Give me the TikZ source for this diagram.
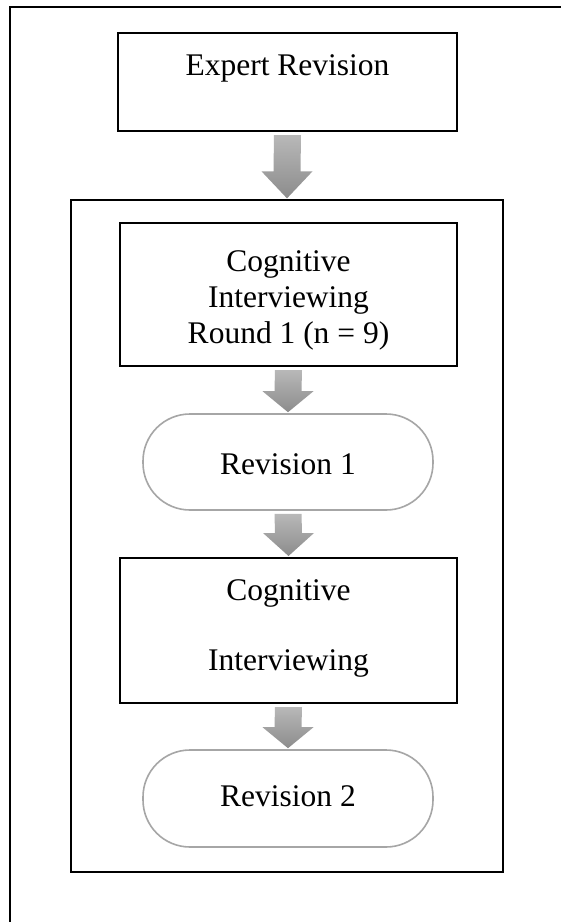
\documentclass[tikz,border=0pt]{standalone}
\usepackage{fontspec}
\setmainfont{Liberation Serif}
\usetikzlibrary{calc}
\definecolor{arrowtop}{RGB}{184,184,184}
\definecolor{arrowbot}{RGB}{140,140,140}
\definecolor{pillgray}{RGB}{166,166,166}
\tikzset{
  box/.style={draw=black, line width=2pt, rectangle, inner sep=0pt, fill=white},
  pill/.style={draw=pillgray, line width=1.6pt, rectangle, rounded corners=47pt, inner sep=0pt},
  framebox/.style={draw=black, line width=1.3pt, rectangle, inner sep=0pt},
  txt/.style={anchor=base, inner sep=0pt, font=\fontsize{31.5}{36}\selectfont},
  blockarrow/.style={top color=arrowtop, bottom color=arrowbot, draw=none},
}
\newcommand{\fatarrow}[3]{%
  \path[blockarrow] ($(#1.south)+(-13.5,3)$) -- ($(#1.south)+(13.5,3)$)
    -- ($(#2.north)+(13.5,-#3)$) -- ($(#2.north)+(25.5,-#3)$)
    -- ($(#2.north)+(0,-1)$) -- ($(#2.north)+(-25.5,-#3)$)
    -- ($(#2.north)+(-13.5,-#3)$) -- cycle;}
\begin{document}
\begin{tikzpicture}[x=1pt,y=-1pt]
\path[use as bounding box] (0,0) rectangle (561,922);
\clip (0,0) rectangle (561,922);
\fill[white] (0,0) rectangle (561,922);
% outer frame (partly outside the picture)
\draw[line width=2pt] (10,940) -- (10,7) -- (580,7);
% inner frame
\node[framebox, minimum width=432pt, minimum height=672pt] (frame) at (287,536) {};
% boxes
\node[box, minimum width=339pt, minimum height=98pt] (expert) at (287.5,82) {};
\node[txt] (expertT) at (287.5,75) {Expert Revision};
\node[box, minimum width=337pt, minimum height=143pt] (cog1) at (288.5,294.5) {};
\node[txt] (cog1a) at (288.5,271) {Cognitive};
\node[txt] (cog1b) at (288.5,307) {Interviewing};
\node[txt] (cog1c) at (288.5,343) {Round 1 (n = 9)};
\node[pill, minimum width=290pt, minimum height=96pt] (rev1) at (288,462) {};
\node[txt] (rev1T) at (288,474) {Revision 1};
\node[box, minimum width=337pt, minimum height=145pt] (cog2) at (288.5,630.5) {};
\node[txt] (cog2a) at (288.5,600) {Cognitive};
\node[txt] (cog2b) at (288.5,670) {Interviewing};
\node[pill, minimum width=290pt, minimum height=97pt] (rev2) at (288,798.5) {};
\node[txt] (rev2T) at (288,806) {Revision 2};
% arrows
\fatarrow{expert}{frame}{28}
\fatarrow{cog1}{rev1}{22}
\fatarrow{rev1}{cog2}{24}
\fatarrow{cog2}{rev2}{22}
\end{tikzpicture}
\end{document}
